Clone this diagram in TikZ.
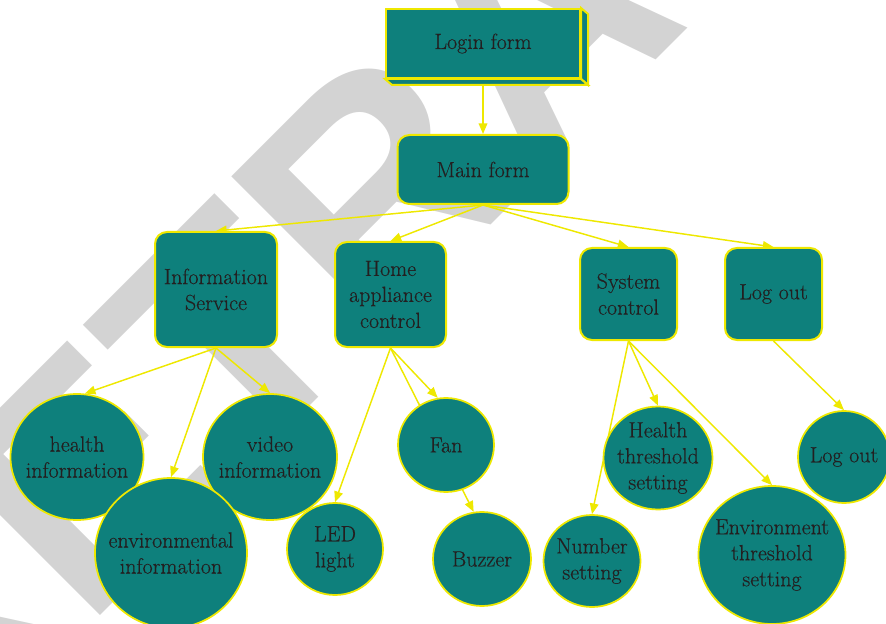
\documentclass[tikz,border=0pt]{standalone}
\usepackage{fontspec}
\newfontfamily\wmfont{Liberation Sans}
\newfontfamily\nodefont{Latin Modern Roman}[FakeBold=0.35]
\usetikzlibrary{arrows.meta,backgrounds,shapes.geometric}
\definecolor{tealfill}{RGB}{14,128,124}
\definecolor{ylw}{RGB}{238,232,0}
\definecolor{txt}{RGB}{35,31,32}
\definecolor{wmgray}{RGB}{211,211,211}
\tikzset{
  lbl/.style={text=txt, font=\nodefont\fontsize{16.5}{19.5}\selectfont, align=center, inner sep=0pt},
  box/.style={lbl, rectangle, draw=ylw, fill=tealfill, line width=1.5pt, rounded corners=9pt},
  flatbox/.style={lbl, rectangle, draw=ylw, fill=tealfill, line width=1.5pt},
  face/.style={draw=ylw, fill=tealfill, line width=1.5pt, line join=miter},
  circ/.style={lbl, ellipse, draw=ylw, fill=tealfill, line width=1.3pt, inner sep=-28pt},
  arr/.style={draw=ylw, line width=1.1pt, -{Triangle[length=8pt,width=6.5pt]}},
}
\begin{document}
\begin{tikzpicture}[x=0.75pt,y=-0.75pt]
\useasboundingbox (0,0) rectangle (886,624);
% top levels
\node[flatbox, minimum width=145.5pt, minimum height=51.75pt] (login) at (483,43.5) {Login form};
\draw[face] (login.north east) -- ++(7,6) -- ([shift={(7,6)}]login.south east) -- (login.south east) -- cycle;
\draw[face] (login.south west) -- ++(7,6) -- ([shift={(7,6)}]login.south east) -- (login.south east) -- cycle;
\node[box, minimum width=128.25pt, minimum height=51.75pt] (main) at (483,169.5) {Main form};
\node[box, minimum width=91.5pt, minimum height=86.25pt] (info) at (216,289.5) {Information\\Service};
\node[box, minimum width=83.25pt, minimum height=78.75pt] (home) at (390.5,294.5) {Home\\appliance\\control};
\node[box, minimum width=72.75pt, minimum height=69pt] (sys) at (628.5,294) {System\\control};
\node[box, minimum width=72.75pt, minimum height=69pt] (logout) at (773.5,294) {Log out};
% leaves
\node[circ, minimum width=99.75pt, minimum height=94.5pt] (health) at (77,457) {health\\information};
\node[circ, minimum width=100.5pt, minimum height=94.5pt] (video) at (270,457) {video\\information};
\node[circ, minimum width=114pt, minimum height=112.5pt] (env) at (171,553) {environmental\\information};
\node[circ, minimum width=72pt, minimum height=69pt] (led) at (335,549) {LED\\light};
\node[circ, minimum width=72pt, minimum height=70.5pt] (fan) at (446,445) {Fan};
\node[circ, minimum width=73.5pt, minimum height=70.5pt] (buzzer) at (482,559) {Buzzer};
\node[circ, minimum width=72.75pt, minimum height=69pt] (number) at (592,561) {Number\\setting};
\node[circ, minimum width=81.75pt, minimum height=77.25pt] (hth) at (658,458) {Health\\threshold\\setting};
\node[circ, minimum width=110.25pt, minimum height=103.5pt] (eth) at (772,555) {Environment\\threshold\\setting};
\node[circ, minimum width=69pt, minimum height=69pt] (logoutc) at (844,457) {Log out};
\begin{scope}[on background layer]
  \begin{scope}
    \clip (0,0) rectangle (886,624);
    \node[rotate=45, anchor=base, inner sep=0pt, text=wmgray, font=\wmfont\bfseries\fontsize{237}{240}\selectfont] (wm) at (613,103) {RETRACTED};
  \end{scope}
  \draw[arr] (login.south) -- (main.north);
  \draw[arr] (main.south) -- (info.north);
  \draw[arr] (main.south) -- (home.north);
  \draw[arr] (main.south) -- (sys.north);
  \draw[arr] (main.south) -- (logout.north);
  \draw[arr] (info.south) -- (health.83);
  \draw[arr] (info.south) -- (env.north);
  \draw[arr] (info.south) -- (video.north);
  \draw[arr] (home.south) -- (led.north);
  \draw[arr] (home.south) -- (fan.100);
  \draw[arr] (home.south) -- (buzzer.100);
  \draw[arr] (sys.south) -- (number.north);
  \draw[arr] (sys.south) -- (hth.north);
  \draw[arr] (sys.south) -- (eth.north);
  \draw[arr] (logout.south) -- (logoutc.north);
\end{scope}
\end{tikzpicture}
\end{document}
